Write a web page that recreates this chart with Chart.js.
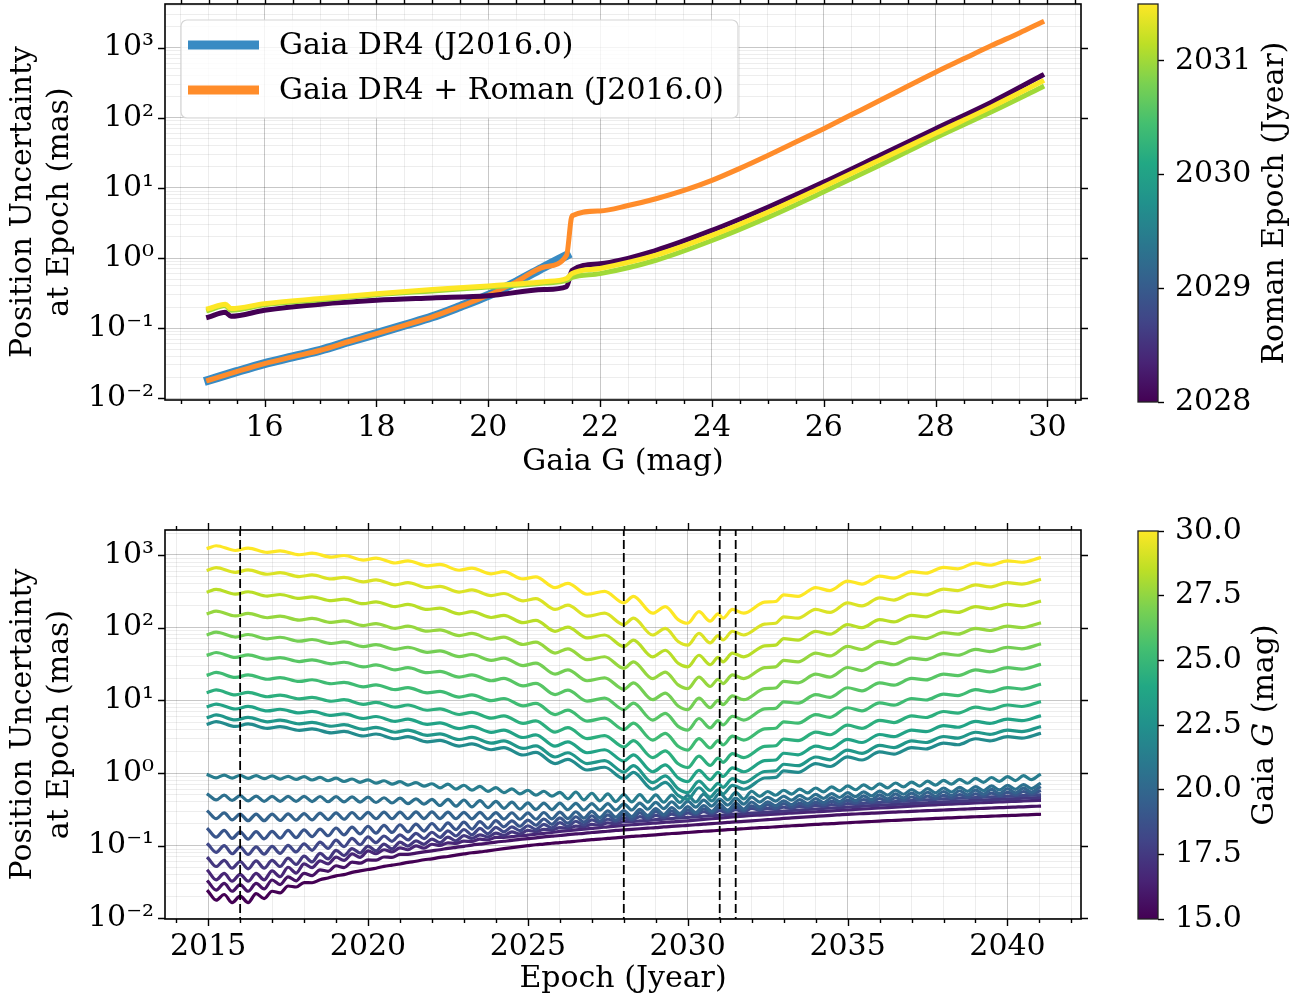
<!DOCTYPE html>
<html>
<head>
<meta charset="utf-8">
<title>Position uncertainty at epoch</title>
<script src="https://cdn.jsdelivr.net/npm/chart.js@4.4.1/dist/chart.umd.min.js"></script>
<style>
  html, body { margin: 0; padding: 0; background: #fff; }
  body { position: relative; width: 1298px; height: 1001px; overflow: hidden; }
  canvas { position: absolute; }
</style>
</head>
<body>
<canvas id="magChart" width="1100" height="500" style="left:0;top:0"></canvas>
<canvas id="magBar" width="198" height="500" style="left:1100px;top:0"></canvas>
<canvas id="epochChart" width="1100" height="501" style="left:0;top:500px"></canvas>
<canvas id="epochBar" width="198" height="501" style="left:1100px;top:500px"></canvas>
<script>
// ---- top panel: uncertainty vs Gaia G ----
const gaiaG = [15.0, 15.5, 16.0, 16.5, 17.0, 17.5, 18.0, 18.5, 19.0, 19.5, 20.0, 20.5, 21.0, 21.4];
const gaiaDR4 = [0.0181, 0.0240, 0.0313, 0.0390, 0.0484, 0.0640, 0.0838, 0.110, 0.145, 0.204, 0.294, 0.457, 0.745, 1.09];
const gaiaRomanG = [15.0, 15.5, 16.0, 16.5, 17.0, 17.5, 18.0, 18.5, 19.0, 19.5, 20.0, 20.5, 21.0, 21.4,
  21.5, 22.0, 22.5, 23.0, 23.5, 24.0, 24.5, 25.0, 25.5, 26.0, 26.5, 27.0, 27.5, 28.0, 28.5, 29.0, 29.5, 29.9];
const gaiaRoman = [0.0181, 0.0240, 0.0313, 0.0390, 0.0484, 0.0640, 0.0838, 0.110, 0.145, 0.204, 0.294, 0.457, 0.745, 1.09,
  4.0, 4.7, 5.6, 7.0, 9.2, 12.8, 19, 29, 45, 70, 111, 176, 282, 447, 692, 1070, 1620, 2300];
const romanG = [15.0, 15.3, 15.4, 16, 17, 18, 19, 20, 21, 21.4, 21.5, 22, 23, 24, 25, 26, 27, 28, 29, 29.9];
const roman2028 = [0.144, 0.168, 0.148, 0.180, 0.220, 0.250, 0.270, 0.290, 0.355, 0.390, 0.670, 0.830, 1.29, 2.48, 5.3, 12.1, 29, 70, 167, 400];
const roman2031 = [0.180, 0.210, 0.180, 0.215, 0.255, 0.300, 0.340, 0.385, 0.440, 0.480, 0.530, 0.600, 0.93, 1.78, 3.8, 8.8, 21, 52, 122, 273];
const roman2031_5 = [0.190, 0.220, 0.190, 0.224, 0.265, 0.310, 0.355, 0.400, 0.460, 0.510, 0.600, 0.710, 1.10, 2.10, 4.5, 10.5, 25, 60, 143, 329];
const romanEpochs = [2028.0, 2031.0, 2031.5];

// ---- bottom panel: uncertainty vs epoch, one line per G ----
const gMags = [15.0, 15.79, 16.58, 17.37, 18.16, 18.95, 19.74, 20.53, 21.32, 22.11,
  22.89, 23.68, 24.47, 25.26, 26.05, 26.84, 27.63, 28.42, 29.21, 30.0];
const markerEpochs = [2016.0, 2028.0, 2031.0, 2031.5];

const brightEpochs = [2015, 2015.25, 2015.5, 2015.75, 2016, 2016.25, 2016.5, 2016.75, 2017, 2017.25, 2017.5, 2017.75,
  2018, 2018.25, 2018.5, 2018.75, 2019, 2019.25, 2019.5, 2019.75, 2020, 2020.25, 2020.5, 2020.75,
  2021, 2021.25, 2021.5, 2021.75, 2022, 2022.25, 2022.5, 2022.75, 2023, 2023.25, 2023.5, 2023.75,
  2024, 2024.25, 2024.5, 2024.75, 2025, 2025.25, 2025.5, 2025.75, 2026, 2026.25, 2026.5, 2026.75,
  2027, 2027.25, 2027.5, 2027.75, 2028, 2028.25, 2028.5, 2028.75, 2029, 2029.25, 2029.5, 2029.75,
  2030, 2030.25, 2030.5, 2030.75, 2031, 2031.25, 2031.5, 2031.75, 2032, 2032.25, 2032.5, 2032.75,
  2033, 2033.25, 2033.5, 2033.75, 2034, 2034.25, 2034.5, 2034.75, 2035, 2035.25, 2035.5, 2035.75,
  2036, 2036.25, 2036.5, 2036.75, 2037, 2037.25, 2037.5, 2037.75, 2038, 2038.25, 2038.5, 2038.75,
  2039, 2039.25, 2039.5, 2039.75, 2040, 2040.25, 2040.5, 2040.75, 2041];

const sigG15_0 = [0.0236, 0.0178, 0.0213, 0.0165, 0.0202, 0.0165, 0.0219, 0.0187, 0.0236, 0.0224, 0.0279, 0.0270,
  0.0311, 0.0309, 0.034, 0.036, 0.0385, 0.040, 0.043, 0.045, 0.047, 0.049, 0.052, 0.054,
  0.056, 0.059, 0.061, 0.064, 0.066, 0.069, 0.071, 0.074, 0.077, 0.080, 0.082, 0.085,
  0.088, 0.091, 0.094, 0.097, 0.100, 0.103, 0.105, 0.108, 0.110, 0.113, 0.115, 0.118,
  0.121, 0.123, 0.126, 0.128, 0.131, 0.134, 0.136, 0.139, 0.141, 0.144, 0.147, 0.149,
  0.152, 0.155, 0.158, 0.160, 0.163, 0.166, 0.168, 0.171, 0.174, 0.177, 0.179, 0.182,
  0.185, 0.188, 0.190, 0.193, 0.196, 0.199, 0.201, 0.204, 0.207, 0.210, 0.212, 0.215,
  0.218, 0.221, 0.223, 0.226, 0.229, 0.232, 0.234, 0.237, 0.240, 0.242, 0.245, 0.247,
  0.250, 0.252, 0.255, 0.257, 0.260, 0.262, 0.265, 0.267, 0.270];
const sigG15_8 = [0.0320, 0.0245, 0.0303, 0.0236, 0.0292, 0.0236, 0.0303, 0.0254, 0.0337, 0.0292, 0.0373, 0.0328,
  0.0416, 0.0387, 0.0466, 0.0444, 0.0530, 0.0500, 0.0593, 0.0574, 0.0637, 0.0632, 0.0699, 0.0691,
  0.0761, 0.076, 0.079, 0.082, 0.085, 0.088, 0.092, 0.095, 0.098, 0.102, 0.105, 0.108,
  0.112, 0.115, 0.118, 0.122, 0.125, 0.128, 0.132, 0.135, 0.138, 0.142, 0.145, 0.148,
  0.152, 0.155, 0.158, 0.162, 0.165, 0.168, 0.171, 0.174, 0.177, 0.181, 0.184, 0.187,
  0.190, 0.194, 0.198, 0.201, 0.205, 0.209, 0.212, 0.216, 0.220, 0.224, 0.228, 0.232,
  0.237, 0.241, 0.245, 0.249, 0.253, 0.257, 0.262, 0.266, 0.270, 0.273, 0.277, 0.280,
  0.283, 0.287, 0.290, 0.293, 0.297, 0.300, 0.303, 0.307, 0.310, 0.313, 0.317, 0.320,
  0.323, 0.327, 0.330, 0.333, 0.337, 0.340, 0.343, 0.347, 0.350];
const sigG16_6 = [0.0449, 0.0339, 0.0415, 0.0325, 0.0404, 0.0325, 0.0415, 0.0339, 0.0449, 0.0374, 0.0505, 0.0419,
  0.0561, 0.0498, 0.0618, 0.0563, 0.0694, 0.0628, 0.0770, 0.0692, 0.0846, 0.0774, 0.0879, 0.0821,
  0.0932, 0.0879, 0.0995, 0.0926, 0.1047, 0.1006, 0.1095, 0.1075, 0.1156, 0.1143, 0.1228, 0.1202,
  0.1299, 0.130, 0.133, 0.137, 0.140, 0.144, 0.148, 0.152, 0.157, 0.161, 0.165, 0.169,
  0.173, 0.177, 0.182, 0.186, 0.190, 0.194, 0.198, 0.201, 0.205, 0.209, 0.213, 0.216,
  0.220, 0.225, 0.230, 0.235, 0.240, 0.245, 0.250, 0.255, 0.260, 0.264, 0.268, 0.272,
  0.277, 0.281, 0.285, 0.289, 0.293, 0.297, 0.302, 0.306, 0.310, 0.315, 0.320, 0.325,
  0.330, 0.335, 0.340, 0.345, 0.350, 0.355, 0.360, 0.365, 0.370, 0.374, 0.378, 0.382,
  0.387, 0.391, 0.395, 0.399, 0.403, 0.408, 0.412, 0.416, 0.420];
const sigG17_4 = [0.0673, 0.0517, 0.0628, 0.0490, 0.0606, 0.0481, 0.0617, 0.0490, 0.0628, 0.0517, 0.0673, 0.0552,
  0.0718, 0.0597, 0.0785, 0.0659, 0.0864, 0.0730, 0.0910, 0.0793, 0.0986, 0.0848, 0.1052, 0.0903,
  0.1118, 0.0989, 0.1168, 0.1045, 0.1233, 0.1101, 0.1308, 0.1166, 0.1372, 0.1261, 0.1413, 0.1318,
  0.1487, 0.1385, 0.1550, 0.1452, 0.1623, 0.1563, 0.1678, 0.1651, 0.1770, 0.1739, 0.1862, 0.1827,
  0.1964, 0.1915, 0.2056, 0.2003, 0.2148, 0.214, 0.219, 0.223, 0.228, 0.232, 0.236, 0.241,
  0.245, 0.249, 0.254, 0.258, 0.262, 0.267, 0.271, 0.276, 0.280, 0.285, 0.290, 0.295,
  0.300, 0.305, 0.310, 0.315, 0.320, 0.325, 0.330, 0.335, 0.340, 0.345, 0.350, 0.355,
  0.360, 0.365, 0.370, 0.375, 0.380, 0.385, 0.390, 0.395, 0.400, 0.405, 0.410, 0.415,
  0.420, 0.425, 0.430, 0.435, 0.440, 0.445, 0.450, 0.455, 0.460];
const sigG18_2 = [0.104, 0.0811, 0.0999, 0.0775, 0.0954, 0.0757, 0.0965, 0.0766, 0.0976, 0.0784, 0.101, 0.0820,
  0.106, 0.0864, 0.112, 0.0918, 0.119, 0.0971, 0.126, 0.103, 0.132, 0.110, 0.136, 0.115,
  0.141, 0.120, 0.148, 0.125, 0.153, 0.130, 0.160, 0.136, 0.167, 0.141, 0.173, 0.146,
  0.179, 0.155, 0.181, 0.161, 0.188, 0.168, 0.197, 0.176, 0.207, 0.185, 0.217, 0.193,
  0.227, 0.206, 0.231, 0.215, 0.241, 0.224, 0.251, 0.234, 0.262, 0.244, 0.272, 0.253,
  0.283, 0.263, 0.293, 0.272, 0.304, 0.282, 0.314, 0.291, 0.325, 0.308, 0.327, 0.318,
  0.338, 0.327, 0.348, 0.337, 0.358, 0.347, 0.368, 0.357, 0.379, 0.376, 0.382, 0.388,
  0.393, 0.399, 0.405, 0.411, 0.417, 0.422, 0.428, 0.434, 0.440, 0.445, 0.450, 0.455,
  0.460, 0.465, 0.470, 0.475, 0.480, 0.485, 0.490, 0.495, 0.500];
const sigG18_9 = [0.168, 0.131, 0.162, 0.126, 0.155, 0.123, 0.156, 0.124, 0.157, 0.127, 0.162, 0.129,
  0.165, 0.133, 0.169, 0.137, 0.175, 0.141, 0.180, 0.145, 0.185, 0.149, 0.190, 0.152,
  0.194, 0.155, 0.198, 0.159, 0.202, 0.162, 0.206, 0.166, 0.211, 0.169, 0.215, 0.174,
  0.221, 0.182, 0.220, 0.185, 0.225, 0.191, 0.233, 0.197, 0.241, 0.204, 0.250, 0.211,
  0.258, 0.218, 0.266, 0.224, 0.274, 0.233, 0.285, 0.242, 0.296, 0.257, 0.300, 0.266,
  0.311, 0.275, 0.322, 0.285, 0.332, 0.294, 0.343, 0.303, 0.354, 0.314, 0.367, 0.325,
  0.378, 0.343, 0.382, 0.354, 0.395, 0.365, 0.406, 0.376, 0.419, 0.388, 0.431, 0.399,
  0.443, 0.410, 0.455, 0.421, 0.468, 0.432, 0.480, 0.443, 0.492, 0.455, 0.505, 0.466,
  0.516, 0.477, 0.529, 0.488, 0.541, 0.499, 0.553, 0.510, 0.565];
const sigG19_7 = [0.294, 0.235, 0.283, 0.226, 0.272, 0.221, 0.272, 0.221, 0.272, 0.222, 0.274, 0.225,
  0.277, 0.226, 0.281, 0.229, 0.283, 0.231, 0.286, 0.234, 0.288, 0.235, 0.289, 0.235,
  0.289, 0.235, 0.291, 0.236, 0.291, 0.236, 0.289, 0.235, 0.288, 0.234, 0.287, 0.233,
  0.285, 0.232, 0.284, 0.231, 0.283, 0.231, 0.286, 0.234, 0.289, 0.236, 0.293, 0.240,
  0.297, 0.244, 0.302, 0.247, 0.305, 0.252, 0.315, 0.260, 0.324, 0.268, 0.334, 0.276,
  0.344, 0.285, 0.357, 0.297, 0.372, 0.308, 0.385, 0.319, 0.399, 0.342, 0.400, 0.355,
  0.415, 0.367, 0.429, 0.380, 0.443, 0.392, 0.458, 0.404, 0.472, 0.417, 0.486, 0.429,
  0.501, 0.441, 0.515, 0.454, 0.529, 0.467, 0.544, 0.479, 0.557, 0.491, 0.570, 0.502,
  0.582, 0.512, 0.595, 0.523, 0.608, 0.534, 0.620, 0.545, 0.633];
const sigG20_5 = [0.504, 0.426, 0.495, 0.419, 0.488, 0.413, 0.482, 0.408, 0.477, 0.406, 0.477, 0.406,
  0.477, 0.405, 0.475, 0.402, 0.472, 0.401, 0.469, 0.398, 0.466, 0.393, 0.457, 0.387,
  0.450, 0.379, 0.441, 0.373, 0.434, 0.357, 0.435, 0.350, 0.425, 0.342, 0.416, 0.335,
  0.407, 0.327, 0.397, 0.319, 0.388, 0.315, 0.386, 0.314, 0.385, 0.312, 0.383, 0.310,
  0.380, 0.309, 0.379, 0.308, 0.377, 0.310, 0.386, 0.317, 0.394, 0.324, 0.402, 0.330,
  0.410, 0.339, 0.424, 0.351, 0.438, 0.362, 0.451, 0.373, 0.466, 0.398, 0.464, 0.411,
  0.479, 0.423, 0.493, 0.436, 0.507, 0.448, 0.522, 0.460, 0.536, 0.473, 0.550, 0.485,
  0.565, 0.497, 0.579, 0.510, 0.593, 0.523, 0.608, 0.535, 0.622, 0.548, 0.636, 0.560,
  0.651, 0.572, 0.665, 0.585, 0.679, 0.597, 0.694, 0.609, 0.708];
const sigG21_3 = [0.942, 0.858, 0.937, 0.853, 0.932, 0.845, 0.921, 0.836, 0.911, 0.826, 0.900, 0.817,
  0.890, 0.802, 0.869, 0.783, 0.848, 0.764, 0.827, 0.745, 0.806, 0.725, 0.783, 0.703,
  0.759, 0.682, 0.736, 0.660, 0.712, 0.623, 0.704, 0.602, 0.679, 0.580, 0.654, 0.558,
  0.629, 0.536, 0.604, 0.515, 0.579, 0.495, 0.561, 0.480, 0.541, 0.442, 0.548, 0.427,
  0.527, 0.414, 0.516, 0.405, 0.505, 0.400, 0.503, 0.397, 0.499, 0.396, 0.497, 0.393,
  0.494, 0.399, 0.511, 0.413, 0.527, 0.426, 0.544, 0.439, 0.561, 0.476, 0.557, 0.494,
  0.579, 0.513, 0.600, 0.532, 0.622, 0.550, 0.643, 0.569, 0.665, 0.588, 0.686, 0.606,
  0.708, 0.625, 0.729, 0.644, 0.750, 0.662, 0.772, 0.681, 0.793, 0.702, 0.818, 0.723,
  0.844, 0.745, 0.868, 0.767, 0.893, 0.788, 0.919, 0.810, 0.943];

const faintEpochs = [2015.0, 2015.25, 2015.85, 2016.25, 2016.85, 2017.25, 2017.85, 2018.25, 2018.85, 2019.25,
  2019.85, 2020.25, 2020.85, 2021.25, 2021.85, 2022.25, 2022.85, 2023.25, 2023.85, 2024.25, 2024.85,
  2025.25, 2025.85, 2026.25, 2026.85, 2027.4, 2028.0, 2028.3, 2028.9, 2029.3, 2029.7, 2030.0, 2030.35,
  2030.7, 2030.95, 2031.1, 2031.4, 2031.75, 2032.4, 2032.75, 2033.0, 2033.45, 2034.0, 2034.45, 2035.0,
  2035.45, 2036.0, 2036.45, 2037.0, 2037.45, 2038.0, 2038.45, 2039.0, 2039.45, 2040.0, 2040.45, 2041.0];
const sigG22_1 = [4.73, 5.11, 4.37, 4.73, 4.12, 4.34, 3.86, 4.04, 3.57, 3.75, 3.23, 3.44, 2.96, 3.17, 2.68, 2.81,
  2.35, 2.51, 2.09, 2.24, 1.77, 1.92, 1.35, 1.54, 1.10, 1.20, 0.836, 1.02, 0.598, 0.741, 0.492, 0.437,
  0.627, 0.467, 0.586, 0.515, 0.678, 0.598, 0.853, 0.869, 1.07, 1.02, 1.35, 1.23, 1.67, 1.51, 1.95,
  1.82, 2.24, 2.14, 2.58, 2.45, 2.96, 2.77, 3.17, 3.02, 3.48];
const sigG22_9 = [5.83, 6.29, 5.38, 5.83, 5.07, 5.34, 4.75, 4.98, 4.40, 4.62, 3.98, 4.24, 3.64, 3.90, 3.30, 3.46,
  2.89, 3.09, 2.57, 2.76, 2.18, 2.36, 1.66, 1.90, 1.35, 1.48, 1.03, 1.26, 0.736, 0.913, 0.606, 0.538,
  0.772, 0.575, 0.722, 0.634, 0.835, 0.736, 1.05, 1.07, 1.32, 1.26, 1.66, 1.52, 2.06, 1.86, 2.40,
  2.24, 2.76, 2.63, 3.18, 3.02, 3.64, 3.41, 3.90, 3.72, 4.29];
const sigG23_7 = [8.24, 8.88, 7.60, 8.24, 7.16, 7.54, 6.71, 7.03, 6.21, 6.52, 5.62, 5.99, 5.14, 5.51, 4.66, 4.89,
  4.08, 4.37, 3.63, 3.90, 3.08, 3.34, 2.34, 2.69, 1.90, 2.09, 1.46, 1.78, 1.04, 1.29, 0.856, 0.760,
  1.09, 0.812, 1.02, 0.895, 1.18, 1.04, 1.48, 1.51, 1.87, 1.78, 2.34, 2.15, 2.91, 2.63, 3.39,
  3.16, 3.90, 3.71, 4.49, 4.26, 5.14, 4.81, 5.51, 5.25, 6.06];
const sigG24_5 = [12.9, 13.9, 11.9, 12.9, 11.2, 11.8, 10.5, 11.0, 9.72, 10.2, 8.80, 9.37, 8.05, 8.63, 7.30, 7.65,
  6.38, 6.84, 5.68, 6.10, 4.82, 5.22, 3.66, 4.21, 2.98, 3.27, 2.28, 2.79, 1.63, 2.02, 1.34, 1.19,
  1.71, 1.27, 1.60, 1.40, 1.85, 1.63, 2.32, 2.37, 2.92, 2.79, 3.66, 3.36, 4.55, 4.12, 5.31,
  4.95, 6.10, 5.81, 7.02, 6.67, 8.05, 7.53, 8.63, 8.22, 9.49];
const sigG25_3 = [22.4, 24.2, 20.7, 22.4, 19.5, 20.6, 18.2, 19.2, 16.9, 17.7, 15.3, 16.3, 14.0, 15.0, 12.7, 13.3,
  11.1, 11.9, 9.88, 10.6, 8.39, 9.08, 6.37, 7.33, 5.18, 5.68, 3.96, 4.85, 2.84, 3.51, 2.33, 2.07,
  2.98, 2.21, 2.79, 2.43, 3.21, 2.84, 4.04, 4.13, 5.07, 4.85, 6.37, 5.84, 7.91, 7.17, 9.24,
  8.60, 10.6, 10.1, 12.2, 11.6, 14.0, 13.1, 15.0, 14.3, 16.5];
const sigG26_1 = [42.2, 45.5, 39.0, 42.2, 36.8, 38.7, 34.2, 36.1, 31.8, 33.4, 28.8, 30.7, 26.3, 28.2, 24.0, 25.1,
  20.9, 22.4, 18.6, 20.0, 15.8, 17.1, 12.0, 13.8, 9.76, 10.7, 7.45, 9.13, 5.35, 6.61, 4.39, 3.90,
  5.62, 4.17, 5.25, 4.58, 6.04, 5.35, 7.61, 7.77, 9.55, 9.13, 12.0, 11.0, 14.9, 13.5, 17.4,
  16.2, 20.0, 19.1, 23.0, 21.9, 26.3, 24.6, 28.2, 26.9, 31.0];
const sigG26_8 = [80.5, 86.6, 74.3, 80.5, 70.2, 73.8, 65.1, 68.7, 60.5, 63.6, 54.9, 58.4, 50.2, 53.8, 45.8, 47.9,
  39.9, 42.7, 35.5, 38.1, 30.1, 32.5, 22.9, 26.3, 18.6, 20.4, 14.2, 17.4, 10.2, 12.6, 8.36, 7.44,
  10.7, 7.95, 10.0, 8.72, 11.5, 10.2, 14.5, 14.8, 18.2, 17.4, 22.9, 20.9, 28.3, 25.7, 33.2,
  30.9, 38.1, 36.3, 43.8, 41.7, 50.2, 46.9, 53.8, 51.2, 59.0];
const sigG27_6 = [157, 169, 145, 157, 137, 144, 127, 134, 118, 124, 107, 114, 97.9, 105, 89.4, 93.4,
  77.8, 83.3, 69.3, 74.3, 58.7, 63.3, 44.7, 51.2, 36.3, 39.8, 27.6, 33.9, 19.9, 24.5, 16.3, 14.5,
  20.9, 15.5, 19.5, 17.0, 22.4, 19.9, 28.2, 28.9, 35.5, 33.9, 44.7, 40.8, 55.2, 50.1, 64.8,
  60.2, 74.3, 70.8, 85.3, 81.3, 97.9, 91.4, 105, 99.9, 115];
const sigG28_4 = [312, 336, 289, 312, 272, 286, 253, 266, 235, 247, 214, 227, 195, 209, 178, 186,
  155, 166, 138, 148, 117, 126, 89.1, 102, 72.3, 79.3, 55.0, 67.5, 39.7, 48.9, 32.4, 28.9,
  41.7, 30.9, 38.9, 33.9, 44.7, 39.7, 56.2, 57.5, 70.8, 67.5, 89.1, 81.3, 110, 99.9, 129,
  120, 148, 141, 170, 162, 195, 182, 209, 199, 229];
const sigG29_2 = [622, 671, 578, 622, 543, 571, 505, 531, 468, 493, 426, 454, 389, 417, 355, 371,
  309, 331, 276, 295, 234, 251, 178, 204, 144, 158, 110, 135, 79.2, 97.7, 64.6, 57.6,
  83.2, 61.6, 77.7, 67.6, 89.2, 79.2, 112, 115, 141, 135, 178, 162, 219, 199, 257,
  240, 295, 282, 339, 324, 389, 363, 417, 398, 457];
const sigG30_0 = [1242, 1340, 1153, 1242, 1084, 1140, 1007, 1059, 935, 984, 851, 906, 776, 832, 708, 741,
  617, 661, 550, 589, 468, 501, 355, 407, 288, 316, 219, 269, 158, 195, 129, 115,
  166, 123, 155, 135, 178, 158, 224, 229, 282, 269, 355, 324, 437, 398, 513,
  479, 589, 562, 676, 646, 776, 724, 832, 794, 912];

const brightSeries = [sigG15_0, sigG15_8, sigG16_6, sigG17_4, sigG18_2, sigG18_9, sigG19_7, sigG20_5, sigG21_3];
const faintSeries = [sigG22_1, sigG22_9, sigG23_7, sigG24_5, sigG25_3, sigG26_1, sigG26_8, sigG27_6, sigG28_4, sigG29_2, sigG30_0];

// tick labels
const yTickValues = [0.01, 0.1, 1, 10, 100, 1000];
const yTickLabels = ['10\u207B\u00B2', '10\u207B\u00B9', '10\u2070', '10\u00B9', '10\u00B2', '10\u00B3'];
const romanBarTicks = [2028, 2029, 2030, 2031];
const gBarTicks = [15.0, 17.5, 20.0, 22.5, 25.0, 27.5, 30.0];

// ---- helpers ----
const FONT = "'DejaVu Serif', serif";
const FS = 30;
Chart.defaults.font.family = FONT;
Chart.defaults.font.size = FS;
Chart.defaults.color = '#000';

const VIRIDIS = ['#440154', '#482475', '#414487', '#355f8d', '#2a788e', '#21918c',
  '#22a884', '#44bf70', '#7ad151', '#bddf26', '#fde725'];

function hexRgb(h) {
  return [1, 3, 5].map(i => parseInt(h.slice(i, i + 2), 16));
}

function viridis(t) {
  t = Math.min(1, Math.max(0, t));
  const p = t * 10;
  const i = Math.min(9, Math.floor(p));
  const f = p - i;
  const a = hexRgb(VIRIDIS[i]), b = hexRgb(VIRIDIS[i + 1]);
  const c = a.map((v, k) => Math.round(v + (b[k] - v) * f));
  return `rgb(${c[0]},${c[1]},${c[2]})`;
}

function pts(xs, ys) {
  return xs.map((x, i) => ({ x: x, y: ys[i] }));
}

function isDecade(v) {
  const l = Math.log10(v);
  return Math.abs(l - Math.round(l)) < 1e-6;
}

function decadeLabel(v) {
  if (!isDecade(v)) return '';
  const k = Math.round(Math.log10(v));
  const idx = yTickValues.findIndex(t => Math.round(Math.log10(t)) === k);
  return idx >= 0 ? yTickLabels[idx] : '';
}

function logTicks(scale) {
  const out = [];
  for (let k = -3; k <= 4; k++) {
    for (let m = 1; m <= 9; m++) {
      const v = m * Math.pow(10, k);
      if (v >= scale.min && v <= scale.max) out.push({ value: v });
    }
  }
  scale.ticks = out;
}

function stepTicks(from, to, step) {
  return scale => {
    const out = [];
    for (let v = from; v <= to + 1e-9; v += step) out.push({ value: Math.round(v * 100) / 100 });
    scale.ticks = out;
  };
}

function onStep(v, step) {
  return Math.abs(v / step - Math.round(v / step)) < 1e-6;
}

function noPad(s) {
  s.paddingTop = 0; s.paddingBottom = 0; s.paddingLeft = 0; s.paddingRight = 0;
}

const MAJOR_GRID = 'rgba(0,0,0,0.22)';
const MINOR_GRID = 'rgba(0,0,0,0.07)';

// frame, mirrored ticks and minor ticks
const frameTicks = {
  id: 'frameTicks',
  afterDatasetsDraw(chart, args, opts) {
    const { ctx, chartArea: a } = chart;
    const xs = chart.scales.x, ys = chart.scales.y;
    ctx.save();
    ctx.strokeStyle = '#000';
    ctx.lineWidth = 1.4;
    ctx.beginPath();
    xs.ticks.forEach(t => {
      const px = Math.round(xs.getPixelForValue(t.value)) + 0.5;
      if (px < a.left - 1 || px > a.right + 1) return;
      const len = onStep(t.value, opts.xMajor) ? 7 : 4;
      ctx.moveTo(px, a.bottom); ctx.lineTo(px, a.bottom + len);
      ctx.moveTo(px, a.top); ctx.lineTo(px, a.top - len);
    });
    ys.ticks.forEach(t => {
      if (!isDecade(t.value)) return;
      const py = Math.round(ys.getPixelForValue(t.value)) + 0.5;
      ctx.moveTo(a.left, py); ctx.lineTo(a.left - 7, py);
      ctx.moveTo(a.right, py); ctx.lineTo(a.right + 7, py);
    });
    ctx.stroke();
    ctx.lineWidth = 1.6;
    ctx.strokeRect(a.left, a.top, a.right - a.left, a.bottom - a.top);
    ctx.restore();
  }
};

// legend drawn inside the plot area, matplotlib style
const insideLegend = {
  id: 'insideLegend',
  afterDatasetsDraw(chart, args, opts) {
    if (!opts.show) return;
    const { ctx, chartArea: a } = chart;
    const items = chart.data.datasets.filter(d => d.label);
    const x0 = a.left + 16, y0 = a.top + 16, w = 557, h = 98, r = 6;
    ctx.save();
    ctx.beginPath();
    ctx.moveTo(x0 + r, y0);
    ctx.arcTo(x0 + w, y0, x0 + w, y0 + h, r);
    ctx.arcTo(x0 + w, y0 + h, x0, y0 + h, r);
    ctx.arcTo(x0, y0 + h, x0, y0, r);
    ctx.arcTo(x0, y0, x0 + w, y0, r);
    ctx.closePath();
    ctx.fillStyle = 'rgba(255,255,255,0.8)';
    ctx.fill();
    ctx.strokeStyle = '#d6d6d6';
    ctx.lineWidth = 1.2;
    ctx.stroke();
    items.forEach((d, i) => {
      const cy = y0 + 25 + i * 45;
      ctx.strokeStyle = d.borderColor;
      ctx.lineWidth = 9;
      ctx.lineCap = 'butt';
      ctx.beginPath();
      ctx.moveTo(x0 + 7, cy);
      ctx.lineTo(x0 + 78, cy);
      ctx.stroke();
      ctx.fillStyle = '#000';
      ctx.font = FS + 'px ' + FONT;
      ctx.textBaseline = 'middle';
      ctx.textAlign = 'left';
      ctx.fillText(d.label, x0 + 98, cy + 1);
    });
    ctx.restore();
  }
};

// colorbar label (with optional italic part) + outline
const barDecor = {
  id: 'barDecor',
  afterDraw(chart, args, opts) {
    const { ctx, chartArea: a } = chart;
    ctx.save();
    ctx.strokeStyle = '#222';
    ctx.lineWidth = 1.3;
    ctx.strokeRect(a.left, a.top, a.right - a.left, a.bottom - a.top);
    ctx.translate(opts.titleX, (a.top + a.bottom) / 2);
    ctx.rotate(-Math.PI / 2);
    ctx.fillStyle = '#000';
    ctx.textBaseline = 'middle';
    ctx.textAlign = 'left';
    const fontOf = p => (p.italic ? 'italic ' : '') + FS + 'px ' + FONT;
    let total = 0;
    opts.title.forEach(p => { ctx.font = fontOf(p); total += ctx.measureText(p.text).width; });
    let x = -total / 2;
    opts.title.forEach(p => {
      ctx.font = fontOf(p);
      ctx.fillText(p.text, x, 0);
      x += ctx.measureText(p.text).width;
    });
    ctx.restore();
  }
};

function yAxis(min, max) {
  return {
    type: 'logarithmic',
    min: min, max: max,
    afterBuildTicks: logTicks,
    afterFit: s => { s.width = 165; noPad(s); },
    ticks: { autoSkip: false, padding: 11, callback: v => decadeLabel(v) },
    grid: {
      drawTicks: false,
      color: c => (c.tick && isDecade(c.tick.value)) ? MAJOR_GRID : MINOR_GRID,
      lineWidth: 1
    },
    border: { display: false },
    title: {
      display: true,
      text: ['Position Uncertainty', 'at Epoch (mas)'],
      font: { size: FS, lineHeight: 1.22 },
      padding: { top: 5, bottom: 0 }
    }
  };
}

function xAxis(min, max, from, to, minorStep, majorStep, title, height) {
  return {
    type: 'linear',
    min: min, max: max,
    afterBuildTicks: stepTicks(from, to, minorStep),
    afterFit: s => { s.height = height; noPad(s); },
    ticks: {
      autoSkip: false, maxRotation: 0, padding: 10,
      callback: v => onStep(v, majorStep) ? String(v) : ''
    },
    grid: {
      drawTicks: false,
      color: c => (c.tick && onStep(c.tick.value, majorStep)) ? MAJOR_GRID : MINOR_GRID,
      lineWidth: 1
    },
    border: { display: false },
    title: { display: true, text: title, font: { size: FS }, padding: { top: 0, bottom: 0 } }
  };
}

const commonOpts = {
  responsive: false,
  animation: false,
  devicePixelRatio: 1,
  events: [],
  elements: { point: { radius: 0 }, line: { borderCapStyle: 'square', borderJoinStyle: 'round' } }
};

// ---- top chart ----
new Chart(document.getElementById('magChart'), {
  type: 'line',
  data: {
    datasets: [
      { label: 'Gaia DR4 (J2016.0)', data: pts(gaiaG, gaiaDR4), borderColor: '#398bc3', borderWidth: 9, order: 5,
        cubicInterpolationMode: 'monotone' },
      { label: 'Gaia DR4 + Roman (J2016.0)', data: pts(gaiaRomanG, gaiaRoman), borderColor: '#ff8c2a', borderWidth: 5, order: 4,
        cubicInterpolationMode: 'monotone' },
      { data: pts(romanG, roman2028), borderColor: viridis((romanEpochs[0] - 2028) / 3.5), borderWidth: 5, order: 3,
        cubicInterpolationMode: 'monotone' },
      { data: pts(romanG, roman2031), borderColor: viridis((romanEpochs[1] - 2028) / 3.5), borderWidth: 5, order: 2,
        cubicInterpolationMode: 'monotone' },
      { data: pts(romanG, roman2031_5), borderColor: viridis((romanEpochs[2] - 2028) / 3.5), borderWidth: 5, order: 1,
        cubicInterpolationMode: 'monotone' }
    ]
  },
  options: Object.assign({}, commonOpts, {
    layout: { padding: { left: 0, right: 19, top: 4, bottom: 20 } },
    scales: {
      x: xAxis(14.22, 30.6, 14.5, 30.5, 0.5, 2, 'Gaia G (mag)', 80),
      y: yAxis(0.00946, 4190)
    },
    plugins: {
      legend: { display: false },
      tooltip: { enabled: false },
      frameTicks: { xMajor: 2 },
      insideLegend: { show: true }
    }
  }),
  plugins: [frameTicks, insideLegend]
});

// ---- bottom chart ----
const epochDatasets = [];
gMags.forEach((g, i) => {
  const bright = i < brightSeries.length;
  const xs = bright ? brightEpochs : faintEpochs;
  const ys = bright ? brightSeries[i] : faintSeries[i - brightSeries.length];
  epochDatasets.push({
    data: pts(xs, ys),
    borderColor: viridis((g - 15) / 15),
    borderWidth: 3.2,
    cubicInterpolationMode: 'monotone',
    order: gMags.length - i + 1
  });
});
markerEpochs.forEach(e => {
  epochDatasets.push({
    data: [{ x: e, y: 0.001 }, { x: e, y: 100000 }],
    borderColor: '#000',
    borderWidth: 1.8,
    borderDash: [9, 4],
    borderCapStyle: 'butt',
    order: 0
  });
});

new Chart(document.getElementById('epochChart'), {
  type: 'line',
  data: { datasets: epochDatasets },
  options: Object.assign({}, commonOpts, {
    layout: { padding: { left: 0, right: 19, top: 30, bottom: 4 } },
    scales: {
      x: xAxis(2013.65, 2042.3, 2014, 2042, 1, 5, 'Epoch (Jyear)', 78),
      y: yAxis(0.0098, 2207)
    },
    plugins: {
      legend: { display: false },
      tooltip: { enabled: false },
      frameTicks: { xMajor: 5 },
      insideLegend: { show: false }
    }
  }),
  plugins: [frameTicks, insideLegend]
});

// ---- colorbars ----
function viridisFill(c) {
  const a = c.chart.chartArea;
  if (!a) return VIRIDIS[5];
  const g = c.chart.ctx.createLinearGradient(0, a.bottom, 0, a.top);
  VIRIDIS.forEach((col, i) => g.addColorStop(i / 10, col));
  return g;
}

function colorbar(id, lo, hi, ticks, fmt, padTop, padBottom, title, titleX) {
  new Chart(document.getElementById(id), {
    type: 'bar',
    data: { labels: [''], datasets: [{ data: [[lo, hi]], backgroundColor: viridisFill, borderWidth: 0,
      barPercentage: 1, categoryPercentage: 1 }] },
    options: Object.assign({}, commonOpts, {
      layout: { padding: { left: 38, right: 0, top: padTop, bottom: padBottom } },
      scales: {
        x: { display: false },
        y: {
          position: 'right',
          min: lo, max: hi,
          afterBuildTicks: s => { s.ticks = ticks.map(v => ({ value: v })); },
          afterFit: s => { s.width = 140; noPad(s); },
          ticks: { autoSkip: false, padding: 11, callback: fmt },
          grid: { drawOnChartArea: false, drawTicks: true, tickLength: 6, tickColor: '#000', tickWidth: 1.4 },
          border: { display: false }
        }
      },
      plugins: {
        legend: { display: false },
        tooltip: { enabled: false },
        barDecor: { title: title, titleX: titleX }
      }
    }),
    plugins: [barDecor]
  });
}

colorbar('magBar', 2028, 2031.5, romanBarTicks, v => String(v), 4, 98,
  [{ text: 'Roman Epoch (Jyear)' }], 175);
colorbar('epochBar', 15, 30, gBarTicks, v => Number(v).toFixed(1), 31, 82,
  [{ text: 'Gaia ' }, { text: 'G', italic: true }, { text: ' (mag)' }], 165);
</script>
</body>
</html>
